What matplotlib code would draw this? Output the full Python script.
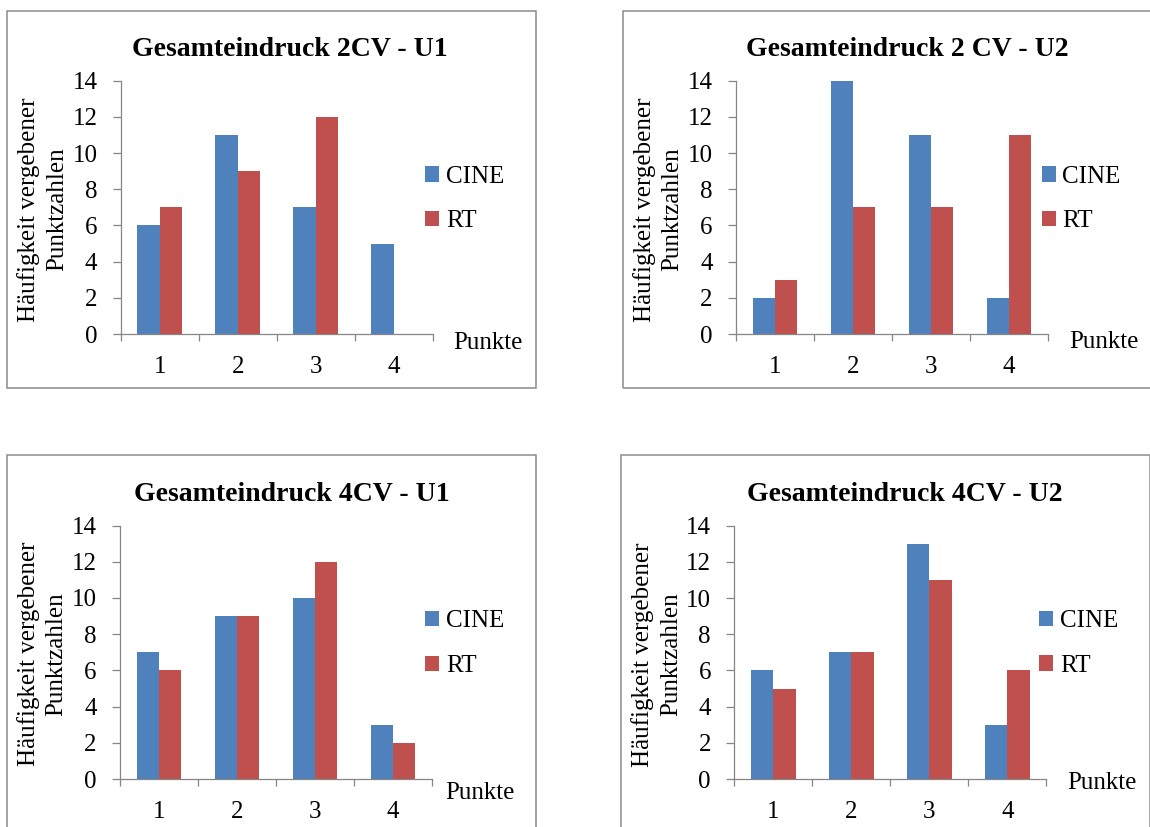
import matplotlib
matplotlib.use('Agg')
import matplotlib.pyplot as plt
from matplotlib.patches import Rectangle

# figure size in pixels (dpi 100)
W, H = 1150, 827

punkte = [1, 2, 3, 4]
series_names = ['CINE', 'RT']
titles = ['Gesamteindruck 2CV - U1', 'Gesamteindruck 2 CV - U2',
          'Gesamteindruck 4CV - U1', 'Gesamteindruck 4CV - U2']
y_ticks = [0, 2, 4, 6, 8, 10, 12, 14]

# Haeufigkeit vergebener Punktzahlen je Punktwert
cine_2cv_u1 = [6, 11, 7, 5]
rt_2cv_u1 = [7, 9, 12, 0]
cine_2cv_u2 = [2, 14, 11, 2]
rt_2cv_u2 = [3, 7, 7, 11]
cine_4cv_u1 = [7, 9, 10, 3]
rt_4cv_u1 = [6, 9, 12, 2]
cine_4cv_u2 = [6, 7, 13, 3]
rt_4cv_u2 = [5, 7, 11, 6]

panel_data = [(cine_2cv_u1, rt_2cv_u1), (cine_2cv_u2, rt_2cv_u2),
              (cine_4cv_u1, rt_4cv_u1), (cine_4cv_u2, rt_4cv_u2)]

# pixel layout of each chart block:
# axes left/top/bottom, frame left/top, title x/baseline, legend x/y, "Punkte" x/y
layout = [
    dict(ax=(120.7, 80.7, 334), box=(7.3, 10.7), title=(290, 56.5), leg=(425, 199), pkt=(453, 342.7)),
    dict(ax=(736, 80.7, 334), box=(623.3, 10.7), title=(907, 56.5), leg=(1041.7, 199), pkt=(1069, 341.7)),
    dict(ax=(120, 525.5, 779), box=(7.3, 455), title=(292, 501.5), leg=(425, 643.7), pkt=(445, 793)),
    dict(ax=(734.3, 525.7, 779), box=(621, 455), title=(905, 501.5), leg=(1039, 643.5), pkt=(1067, 783)),
]
AX_W = 312
BOX_W, BOX_H = 528.7, 377

colors = ['#4F81BD', '#C0504D']
axis_gray = '#868686'
bar_w = 1 / 3.5  # Excel gap width 150 %

plt.rcParams['font.family'] = ['Liberation Serif', 'DejaVu Serif']
fig = plt.figure(figsize=(W / 100, H / 100), dpi=100)


def fx(x):
    return x / W


def fy(y):
    return 1 - y / H


def draw_panel(i):
    lay = layout[i]
    left, top, bottom = lay['ax']

    # grey frame around the chart
    bx, by = lay['box']
    fig.patches.append(Rectangle((fx(bx), fy(by + BOX_H)), BOX_W / W, BOX_H / H,
                                 transform=fig.transFigure, fill=False,
                                 edgecolor='#8c8c8c', linewidth=1.1))

    ax = fig.add_axes([fx(left), fy(bottom), AX_W / W, (bottom - top) / H])
    cine, rt = panel_data[i]
    bars = []
    for k, vals in enumerate([cine, rt]):
        offs = (k - 0.5) * bar_w
        b = ax.bar([p + offs for p in punkte], vals, width=bar_w,
                   color=colors[k], label=series_names[k])
        bars.append(b)

    ax.set_xlim(0.5, 4.5)
    ax.set_ylim(0, 14)
    ax.set_yticks(y_ticks)
    ax.set_xticks([0.5, 1.5, 2.5, 3.5, 4.5])
    ax.set_xticklabels([])
    ax.set_xticks(punkte, minor=True)
    ax.set_xticklabels([str(p) for p in punkte], minor=True)

    for s in ['top', 'right']:
        ax.spines[s].set_visible(False)
    for s in ['left', 'bottom']:
        ax.spines[s].set_color(axis_gray)
        ax.spines[s].set_linewidth(0.9)
    ax.tick_params(axis='y', direction='out', length=5.8, width=0.9,
                   color=axis_gray, labelsize=18, pad=11)
    ax.tick_params(axis='x', which='major', direction='out', length=5,
                   width=0.9, color=axis_gray)
    ax.tick_params(axis='x', which='minor', length=0, labelsize=18, pad=16)

    fig.text(fx(lay['title'][0]), fy(lay['title'][1]), titles[i],
             ha='center', va='baseline', fontsize=20, fontweight='bold')

    fig.text(fx(left - 78), fy((top + bottom) / 2 + 2),
             'Häufigkeit vergebener\nPunktzahlen', rotation=90,
             ha='center', va='center', multialignment='center',
             fontsize=18, linespacing=1.35)

    fig.text(fx(lay['pkt'][0]), fy(lay['pkt'][1]), 'Punkte',
             ha='left', va='center', fontsize=18)

    ax.legend(handles=bars, loc='center left',
              bbox_to_anchor=(fx(lay['leg'][0]), fy(lay['leg'][1])),
              bbox_transform=fig.transFigure, frameon=False, fontsize=18,
              handlelength=0.56, handleheight=0.56, handletextpad=0.27,
              labelspacing=0.9, borderpad=0, borderaxespad=0)


for i in range(4):
    draw_panel(i)

fig.savefig('out.png', dpi=100)
